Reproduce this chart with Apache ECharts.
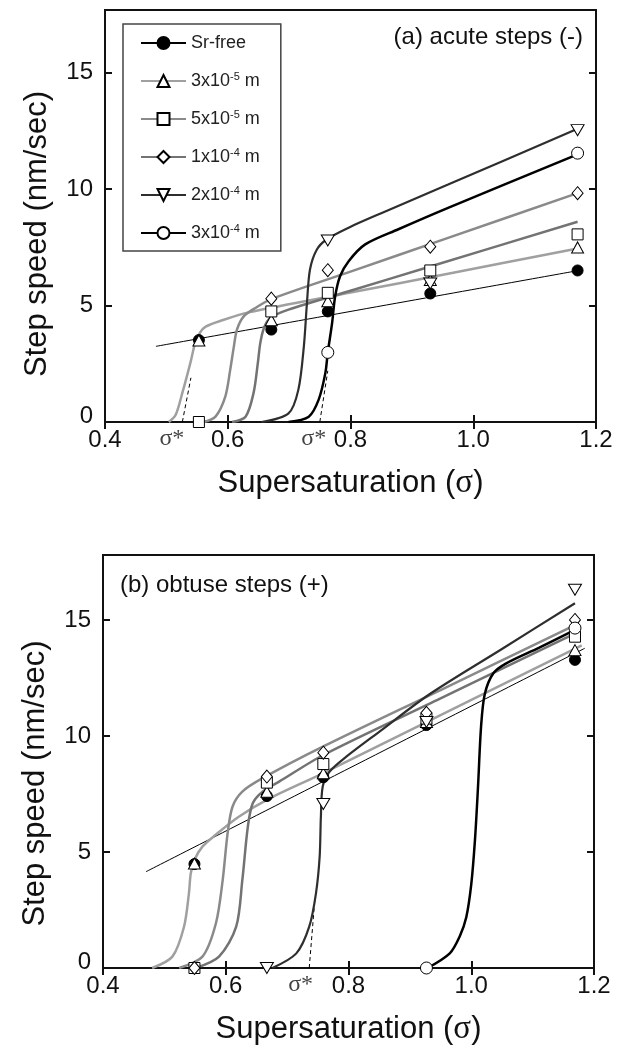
<!DOCTYPE html>
<html><head><meta charset="utf-8">
<script src="https://cdn.jsdelivr.net/npm/echarts@6/dist/echarts.min.js"></script>
<style>html,body{margin:0;padding:0;background:#fff}#c{width:628px;height:1050px}</style>
</head><body><div id="c"></div>
<script>
// ---------- names / labels ----------
const seriesNames = ['Sr-free','3x10-5 m','5x10-5 m','1x10-4 m','2x10-4 m','3x10-4 m'];
const legendLabels = ['Sr-free','3x10{sup|-5} m','5x10{sup|-5} m','1x10{sup|-4} m','2x10{sup|-4} m','3x10{sup|-4} m'];
const panelTitles = ['(a) acute steps (-)','(b) obtuse steps (+)'];
const xTicks = [0.4, 0.6, 0.8, 1.0, 1.2];
const yTicks = [0, 5, 10, 15];

// ---------- panel (a): acute steps ----------
const sigmaA = [0.553, 0.671, 0.763, 0.930, 1.170];
const aMarkSrFree = [3.52, 3.97, 4.75, 5.52, 6.51];
const aMark3e5    = [3.50, 4.37, 5.19, 6.10, 7.50];
const aMark5e5    = [0.00, 4.75, 5.55, 6.51, 8.06];
const aMark1e4    = [null, 5.30, 6.52, 7.53, 9.83];
const aMark2e4    = [null, null, 7.80, 5.95, 12.54];
const aMark3e4    = [null, null, 2.99, null, 11.55];

const aCurveSrFree = [[0.483,3.25],[1.170,6.50]];
const aCurve3e5 = [[0.504,0],[0.515,0.30],[0.526,1.25],[0.539,2.53],[0.547,3.40],[0.555,3.85],[0.564,4.10],[0.591,4.37],[0.634,4.71],[0.800,5.56],[0.959,6.37],[1.170,7.45]];
const aCurve5e5 = [[0.561,0],[0.580,0.23],[0.596,1.09],[0.604,2.24],[0.610,3.25],[0.615,3.97],[0.626,4.54],[0.645,4.90],[0.671,5.28],[0.800,6.46],[0.959,7.91],[1.170,9.83]];
const aCurve1e4 = [[0.607,0],[0.629,0.23],[0.642,1.24],[0.649,2.53],[0.653,3.39],[0.659,4.04],[0.669,4.47],[0.699,4.83],[0.800,5.64],[0.930,6.68],[1.170,8.60]];
const aCurve2e4 = [[0.655,0],[0.699,0.37],[0.715,1.38],[0.724,3.25],[0.729,5.10],[0.734,6.55],[0.745,7.40],[0.761,7.84],[0.797,8.35],[0.851,8.98],[0.959,10.20],[1.170,12.60]];
const aCurve3e4 = [[0.699,0],[0.732,0.23],[0.748,0.95],[0.759,2.10],[0.763,2.99],[0.770,4.25],[0.775,5.40],[0.783,6.26],[0.797,6.91],[0.824,7.63],[0.878,8.28],[0.959,9.20],[1.170,11.50]];
const aDash1 = [[0.526,0],[0.540,1.9]];
const aDash2 = [[0.750,0],[0.763,2.2]];
const aSigmaStar = [0.509, 0.740];

// ---------- panel (b): obtuse steps ----------
const sigmaB = [0.549, 0.667, 0.759, 0.927, 1.169];
const bMarkSrFree = [4.48, 7.41, 8.22, 10.47, 13.28];
const bMark3e5    = [4.50, 7.60, 8.39, 10.60, 13.70];
const bMark5e5    = [0.00, 7.99, 8.79, 10.75, 14.28];
const bMark1e4    = [0.00, 8.25, 9.28, 11.00, 15.00];
const bMark2e4    = [null, 0.00, 7.07, 10.60, 16.30];
const bMark3e4    = [null, null, null, 0.00, 14.65];

const bCurveSrFree = [[0.470,4.15],[1.185,13.78]];
const bCurve3e5 = [[0.480,0],[0.513,0.49],[0.532,1.78],[0.540,3.22],[0.543,4.08],[0.549,4.66],[0.562,5.23],[0.584,5.75],[0.620,6.50],[0.667,7.25],[0.759,8.40],[0.950,10.90],[1.180,13.90]];
const bCurve5e5 = [[0.524,0],[0.562,0.49],[0.584,1.93],[0.595,3.79],[0.603,5.80],[0.611,6.95],[0.627,7.60],[0.660,8.18],[0.759,9.55],[0.950,11.98],[1.175,14.85]];
const bCurve1e4 = [[0.551,0],[0.589,0.49],[0.617,1.78],[0.627,3.79],[0.636,6.09],[0.644,7.10],[0.660,7.60],[0.687,8.03],[0.759,9.18],[0.950,11.62],[1.172,14.45]];
const bCurve2e4 = [[0.676,0],[0.715,0.63],[0.736,1.78],[0.747,3.22],[0.753,4.80],[0.755,6.52],[0.758,7.82],[0.769,8.46],[0.796,9.10],[0.851,10.20],[0.932,11.80],[1.050,13.75],[1.169,15.72]];
const bCurve3e4 = [[0.929,0],[0.965,0.63],[0.981,1.35],[0.992,2.20],[1.000,3.60],[1.006,5.50],[1.011,7.80],[1.016,10.40],[1.022,11.80],[1.036,12.70],[1.057,13.13],[1.110,13.80],[1.169,14.57]];
const bDash1 = [[0.736,0],[0.745,2.9]];
const bSigmaStar = [0.722];

// ---------- styles ----------
const FONT = '"Liberation Sans", Arial, Helvetica, sans-serif';
const SERIF = '"Liberation Serif", "Times New Roman", serif';
const lineColors = ['#000000','#a0a0a0','#8a8a8a','#737373','#2e2e2e','#000000'];
const lineWidths = [1, 2.5, 2.5, 2.5, 2.2, 2.5];
const symbols = ['circle','triangle','rect','diamond','path://M0,0L10,0L5,9Z','circle'];
const symbolFills = ['#000','#fff','#fff','#fff','#fff','#fff'];
const symbolSizes = [11, [12,11], 11, [11,13], [13,11], 12];

const marksA = [aMarkSrFree, aMark3e5, aMark5e5, aMark1e4, aMark2e4, aMark3e4];
const curvesA = [aCurveSrFree, aCurve3e5, aCurve5e5, aCurve1e4, aCurve2e4, aCurve3e4];
const marksB = [bMarkSrFree, bMark3e5, bMark5e5, bMark1e4, bMark2e4, bMark3e4];
const curvesB = [bCurveSrFree, bCurve3e5, bCurve5e5, bCurve1e4, bCurve2e4, bCurve3e4];

function buildPanel(idx, sigma, marks, curves, dashes, stars) {
  const out = [];
  for (let k = 0; k < seriesNames.length; k++) {
    out.push({
      type: 'line', name: seriesNames[k], xAxisIndex: idx * 2, yAxisIndex: idx * 2,
      data: curves[k], smooth: 0.3, showSymbol: false,
      symbol: symbols[k], symbolSize: 12,
      lineStyle: { color: lineColors[k], width: lineWidths[k] },
      itemStyle: { color: symbolFills[k], borderColor: '#000', borderWidth: 1 },
      z: 2, silent: true
    });
  }
  for (let k = 0; k < seriesNames.length; k++) {
    const pts = [];
    sigma.forEach((s, i) => { if (marks[k][i] !== null) pts.push([s, marks[k][i]]); });
    out.push({
      type: 'scatter', name: seriesNames[k], xAxisIndex: idx * 2, yAxisIndex: idx * 2,
      data: pts, symbol: symbols[k], symbolSize: symbolSizes[k], clip: false,
      itemStyle: { color: symbolFills[k], borderColor: '#000', borderWidth: 1, opacity: 1 },
      z: 5, silent: true
    });
  }
  dashes.forEach(d => out.push({
    type: 'line', name: 'dash', xAxisIndex: idx * 2, yAxisIndex: idx * 2, data: d,
    showSymbol: false, symbol: 'none', lineStyle: { color: '#000', width: 1, type: [4, 3] }, z: 1, silent: true
  }));
  out.push({
    type: 'scatter', name: 'sigmaStar', xAxisIndex: idx * 2, yAxisIndex: idx * 2,
    data: stars.map(s => [s, 0]), symbolSize: 1, clip: false,
    itemStyle: { color: 'rgba(0,0,0,0)' },
    label: { show: true, position: 'bottom', distance: 4, formatter: 'σ*',
             fontFamily: SERIF, fontSize: 24, color: '#111' },
    z: 6, silent: true
  });
  return out;
}

const axisTextColor = '#111';
function xAxes(gi) {
  return [{
    gridIndex: gi, type: 'value', min: 0.4, max: 1.2, interval: 0.2, position: 'bottom',
    axisLine: { show: false }, splitLine: { show: false },
    axisTick: { inside: true, length: 7, lineStyle: { color: '#111', width: 2 } },
    axisLabel: { fontSize: 24, fontFamily: FONT, color: axisTextColor, margin: 6,
                 formatter: v => v.toFixed(1) },
    name: 'Supersaturation ({s|σ})', nameLocation: 'middle', nameGap: 45,
    nameTextStyle: { fontSize: 31, fontFamily: FONT, color: axisTextColor,
                     rich: { s: { fontSize: 33, fontFamily: SERIF, color: axisTextColor } } }
  }, {
    gridIndex: gi, type: 'value', min: 0.4, max: 1.2, interval: 0.2, position: 'top',
    axisLine: { show: false }, splitLine: { show: false }, axisLabel: { show: false },
    axisTick: { inside: true, length: 7, lineStyle: { color: '#111', width: 2 } }
  }];
}
function yAxes(gi, ymax, shift) {
  return [{
    gridIndex: gi, type: 'value', min: 0, max: ymax, interval: 5, position: 'left',
    axisLine: { show: false }, splitLine: { show: false },
    axisTick: { inside: true, length: 7, lineStyle: { color: '#111', width: 2 } },
    axisLabel: { fontSize: 24, fontFamily: FONT, color: axisTextColor, margin: 12, showMaxLabel: false,
                 formatter: v => (yTicks.indexOf(v) < 0 ? '' : (v === 0 ? '{z|0}' : String(v))),
                 rich: { z: { fontSize: 24, fontFamily: FONT, color: axisTextColor, padding: [0, 0, 12, 0] } } },
    name: 'Step speed (nm/sec)', nameLocation: 'middle', nameGap: 52,
    nameTextStyle: { fontSize: 31, fontFamily: FONT, color: axisTextColor, padding: [0, shift, 0, 0] }
  }, {
    gridIndex: gi, type: 'value', min: 0, max: ymax, interval: 5, position: 'right',
    axisLine: { show: false }, splitLine: { show: false }, axisLabel: { show: false },
    axisTick: { inside: true, length: 7, lineStyle: { color: '#111', width: 2 } }
  }];
}

const chart = echarts.init(document.getElementById('c'), null, { renderer: 'canvas' });
chart.setOption({
  animation: false,
  backgroundColor: '#fff',
  title: [
    { text: panelTitles[0], right: 45, top: 25, padding: 0,
      textStyle: { fontSize: 24, fontWeight: 'normal', fontFamily: FONT, color: '#111' } },
    { text: panelTitles[1], left: 120, top: 573, padding: 0,
      textStyle: { fontSize: 24, fontWeight: 'normal', fontFamily: FONT, color: '#111' } }
  ],
  grid: [
    { left: 105, top: 10, width: 491, height: 412, show: true, borderColor: '#111', borderWidth: 2, backgroundColor: 'transparent' },
    { left: 103, top: 555, width: 491, height: 413, show: true, borderColor: '#111', borderWidth: 2, backgroundColor: 'transparent' }
  ],
  xAxis: [...xAxes(0), ...xAxes(1)],
  yAxis: [...yAxes(0, 17.7, 36), ...yAxes(1, 17.8, 44)],
  legend: {
    data: seriesNames, orient: 'vertical', left: 123, top: 24,
    padding: [9, 21, 8, 17], itemGap: 18, itemWidth: 45, itemHeight: 15,
    borderColor: '#444', borderWidth: 1.5, selectedMode: false,
    formatter: name => legendLabels[seriesNames.indexOf(name)],
    textStyle: { fontSize: 18, fontFamily: FONT, color: '#222', lineHeight: 20,
                 rich: { sup: { fontSize: 11, fontFamily: FONT, color: '#222', verticalAlign: 'top', lineHeight: 20, padding: [0, 0, 8, 0] } } }
  },
  series: [
    ...buildPanel(0, sigmaA, marksA, curvesA, [aDash1, aDash2], aSigmaStar),
    ...buildPanel(1, sigmaB, marksB, curvesB, [bDash1], bSigmaStar)
  ]
});
</script></body></html>
